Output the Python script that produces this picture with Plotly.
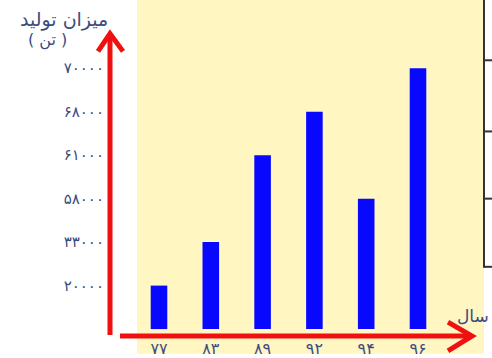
import plotly.graph_objects as go

# ---- data ----
years = ["۷۷", "۸۳", "۸۹", "۹۲", "۹۴", "۹۶"]
production = [20000, 33000, 61000, 68000, 58000, 70000]
y_tick_values = [20000, 33000, 58000, 61000, 68000, 70000]
y_tick_labels = ["۲۰۰۰۰", "۳۳۰۰۰", "۵۸۰۰۰", "۶۱۰۰۰", "۶۸۰۰۰", "۷۰۰۰۰"]
y_title = "میزان تولید"
y_unit = "( تن )"
x_title = "سال"

W, H = 492, 358
L, R, T, B = 110, 483, 0, 340  # plot area in pixels

def px(x):
    return (x - L) / (R - L)

def py(y):
    return (B - y) / (B - T)

text_color = "#3b4c82"
red = "#f01010"
font_fam = "DejaVu Sans"

fig = go.Figure()
fig.add_trace(go.Bar(
    x=years,
    y=[str(v) for v in production],
    width=0.32,
    marker=dict(color="#0808ff", line=dict(width=0)),
    hoverinfo="skip",
))

cat_y = ["0"] + [str(v) for v in y_tick_values]

shapes = [
    # yellow panel
    dict(type="rect", xref="paper", yref="paper", x0=px(137), x1=px(484), y0=py(358), y1=py(0),
         fillcolor="#fff6c2", line=dict(width=0), layer="below"),
    # right frame
    dict(type="line", xref="paper", yref="paper", x0=px(484), x1=px(484), y0=py(0), y1=py(271),
         line=dict(color="#333333", width=2)),
]
for yy in [61, 133, 201, 270]:
    shapes.append(dict(type="line", xref="paper", yref="paper", x0=px(484), x1=px(492),
                       y0=py(yy), y1=py(yy), line=dict(color="#333333", width=2)))
# red axes with arrows
shapes += [
    dict(type="line", xref="paper", yref="paper", x0=px(110), x1=px(110), y0=py(339), y1=py(36),
         line=dict(color=red, width=5)),
    dict(type="line", xref="paper", yref="paper", x0=px(120), x1=px(470), y0=py(340), y1=py(340),
         line=dict(color=red, width=5)),
    dict(type="path", xref="paper", yref="paper",
         path=f"M {px(98)} {py(52)} L {px(110)} {py(34)} L {px(123)} {py(52)}",
         line=dict(color=red, width=5)),
    dict(type="path", xref="paper", yref="paper",
         path=f"M {px(448)} {py(326)} L {px(472)} {py(340)} L {px(448)} {py(355)}",
         line=dict(color=red, width=5)),
]

annotations = [
    dict(text=y_title, xref="paper", yref="paper", x=px(110), y=py(20), xanchor="right", yanchor="middle",
         showarrow=False, font=dict(family=font_fam, size=19, color=text_color)),
    dict(text=y_unit, xref="paper", yref="paper", x=px(47), y=py(40), xanchor="center", yanchor="middle",
         showarrow=False, font=dict(family=font_fam, size=16, color=text_color)),
    dict(text=x_title, xref="paper", yref="paper", x=px(491), y=py(320), xanchor="right", yanchor="middle",
         showarrow=False, font=dict(family=font_fam, size=17, color=text_color)),
]

# x: centers at 159 + 51.8*i ; y: index 0 at 333, 44 px per index
x0 = (L - 159) / 51.8
x1 = (R - 159) / 51.8
y0 = (333 - B) / 44
y1 = (333 - T) / 44

fig.update_layout(
    width=W, height=H,
    margin=dict(l=L, r=W - R, t=T, b=H - B, pad=0),
    paper_bgcolor="white",
    plot_bgcolor="white",
    showlegend=False,
    shapes=shapes,
    annotations=annotations,
    xaxis=dict(type="category", range=[x0, x1], showgrid=False, zeroline=False, showline=False,
               ticks="", tickfont=dict(family=font_fam, size=16, color=text_color),
               ticklabelstandoff=1, fixedrange=True),
    yaxis=dict(type="category", categoryorder="array", categoryarray=cat_y, range=[y0, y1],
               tickmode="array", tickvals=[str(v) for v in y_tick_values], ticktext=y_tick_labels,
               showgrid=False, zeroline=False, showline=False, ticks="",
               tickfont=dict(family=font_fam, size=15, color=text_color),
               ticklabelstandoff=5, fixedrange=True),
)

fig.write_html("out.html", config={"displayModeBar": False},
               post_script="document.body.style.margin='0';document.body.style.overflow='hidden';")
